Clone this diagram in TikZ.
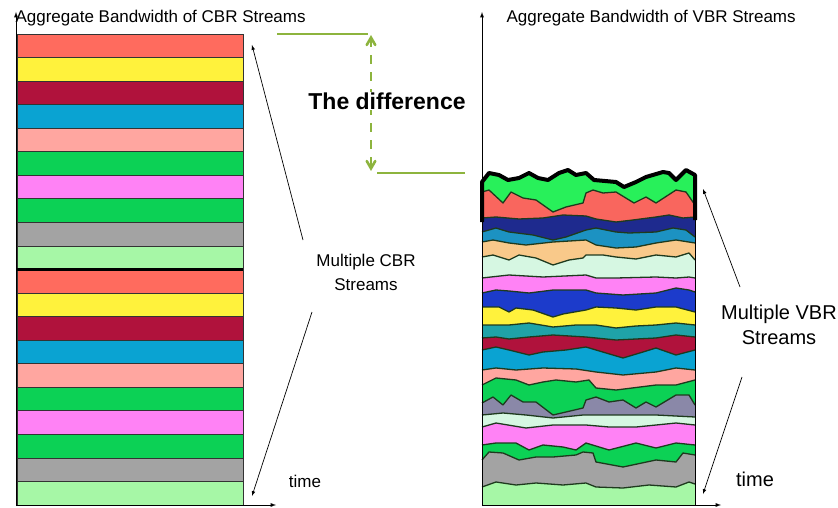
\documentclass[tikz,border=0pt]{standalone}
\usepackage{fontspec}
\setmainfont{Liberation Sans}
\usetikzlibrary{arrows}

\definecolor{cbrred}{HTML}{FF6B5E}
\definecolor{cbryellow}{HTML}{FFF23C}
\definecolor{cbrmaroon}{HTML}{B0123C}
\definecolor{cbrblue}{HTML}{0AA3D2}
\definecolor{cbrpink}{HTML}{FFA6A0}
\definecolor{cbrgreen}{HTML}{0CD155}
\definecolor{cbrmagenta}{HTML}{FF82F5}
\definecolor{cbrgray}{HTML}{A3A3A3}
\definecolor{cbrmint}{HTML}{A6F7A6}
\definecolor{vbrlime}{HTML}{28F05A}
\definecolor{vbrred}{HTML}{F9665E}
\definecolor{vbrnavy}{HTML}{1E2A8E}
\definecolor{vbrteal}{HTML}{1C92C2}
\definecolor{vbrorange}{HTML}{F9C98A}
\definecolor{vbrpale}{HTML}{D6F7E2}
\definecolor{vbrroyal}{HTML}{1C3BCB}
\definecolor{vbrcyan}{HTML}{1FA3A8}
\definecolor{vbrslate}{HTML}{8A88A8}
\definecolor{edgegreen}{HTML}{1E3A1E}
\definecolor{diffgreen}{HTML}{8DB43E}

\newcommand{\vbrlayer}[2]{%
  \fill[#1] (482,505) -- #2 -- (695,505) -- cycle;
  \draw[vbredge] #2;}

\begin{document}
\begin{tikzpicture}[x=1pt, y=-1pt, font=\fontsize{17}{24}\selectfont]
	\tikzstyle{cbrband}=[draw=black!80, line width=0.8pt]
	\tikzstyle{vbredge}=[draw=edgegreen, line width=1.3pt, line join=round]
	\tikzstyle{axis}=[-latex, line width=0.9pt]
	\tikzstyle{pointer}=[-latex, line width=0.7pt]
	\tikzstyle{diffline}=[draw=diffgreen, line width=2.6pt]
	\useasboundingbox (0,0) rectangle (838,508);
	\foreach \c [count=\i from 0] in {cbrred, cbryellow, cbrmaroon, cbrblue, cbrpink, cbrgreen, cbrmagenta, cbrgreen, cbrgray, cbrmint, cbrred, cbryellow, cbrmaroon, cbrblue, cbrpink, cbrgreen, cbrmagenta, cbrgreen, cbrgray, cbrmint}
		\filldraw[fill=\c, cbrband] (17,34+\i*23.55) rectangle (243,57.55+\i*23.55);
	\draw[line width=2.8pt] (17,269.5) -- (243,269.5);
	\draw[axis] (16,506) -- (16,12);
	\draw[axis] (16,505) -- (276,505);
	\vbrlayer{vbrlime}{(482,182) -- (489,173) -- (499,175) -- (508,180) -- (519,178) -- (529,173) -- (538,178) -- (548,180) -- (559,173) -- (568,170) -- (576,175) -- (586,173) -- (594,180) -- (616,182) -- (624,187) -- (636,182) -- (646,177) -- (663,172) -- (669,173) -- (676,180) -- (686,170) -- (695,175)}
	\vbrlayer{vbrred}{(482,192) -- (489,190) -- (503,203) -- (511,192) -- (523,198) -- (536,200) -- (553,212) -- (566,207) -- (583,203) -- (586,193) -- (593,190) -- (603,193) -- (616,192) -- (634,203) -- (646,197) -- (656,203) -- (676,190) -- (686,192) -- (695,205)}
	\vbrlayer{vbrnavy}{(482,218) -- (496,217) -- (519,219) -- (543,218) -- (563,215) -- (586,216) -- (596,219) -- (616,222) -- (633,220) -- (656,217) -- (669,215) -- (683,218) -- (695,217)}
	\vbrlayer{vbrteal}{(482,232) -- (496,228) -- (509,232) -- (533,235) -- (553,240) -- (566,237) -- (586,230) -- (596,228) -- (616,232) -- (629,233) -- (656,232) -- (673,228) -- (686,230) -- (695,237)}
	\vbrlayer{vbrorange}{(482,242) -- (493,240) -- (509,243) -- (526,245) -- (553,242) -- (586,240) -- (596,245) -- (616,248) -- (636,247) -- (656,243) -- (676,240) -- (695,243)}
	\vbrlayer{vbrpale}{(482,257) -- (493,255) -- (509,260) -- (519,255) -- (536,258) -- (553,265) -- (569,260) -- (583,258) -- (586,255) -- (603,255) -- (616,257) -- (636,259) -- (656,255) -- (676,257) -- (689,253) -- (695,260)}
	\vbrlayer{cbrmagenta}{(482,278) -- (509,275) -- (543,277) -- (586,275) -- (596,278) -- (616,278) -- (656,277) -- (676,278) -- (689,277) -- (695,278)}
	\vbrlayer{vbrroyal}{(482,293) -- (496,290) -- (509,291) -- (529,293) -- (553,290) -- (586,290) -- (596,293) -- (623,295) -- (656,293) -- (676,288) -- (689,290) -- (695,292)}
	\vbrlayer{cbryellow}{(482,307) -- (499,307) -- (509,312) -- (516,308) -- (533,310) -- (553,317) -- (563,314) -- (586,310) -- (596,307) -- (616,308) -- (636,310) -- (656,307) -- (676,307) -- (695,312)}
	\vbrlayer{vbrcyan}{(482,325) -- (509,325) -- (529,323) -- (553,327) -- (576,325) -- (596,325) -- (616,328) -- (636,326) -- (656,325) -- (676,323) -- (695,325)}
	\vbrlayer{cbrmaroon}{(482,338) -- (496,337) -- (509,339) -- (529,337) -- (553,335) -- (586,337) -- (596,338) -- (616,340) -- (656,338) -- (676,335) -- (695,337)}
	\vbrlayer{cbrblue}{(482,350) -- (496,347) -- (509,350) -- (529,355) -- (543,352) -- (566,350) -- (586,347) -- (596,350) -- (623,358) -- (643,352) -- (656,348) -- (676,355) -- (695,350)}
	\vbrlayer{cbrpink}{(482,370) -- (496,368) -- (516,370) -- (543,368) -- (576,369) -- (596,372) -- (623,375) -- (656,372) -- (676,368) -- (695,370)}
	\vbrlayer{cbrgreen}{(482,385) -- (496,378) -- (516,380) -- (529,385) -- (543,382) -- (556,380) -- (576,382) -- (589,380) -- (596,388) -- (616,390) -- (656,385) -- (676,385) -- (695,380)}
	\vbrlayer{vbrslate}{(482,403) -- (493,397) -- (503,405) -- (511,395) -- (523,402) -- (536,402) -- (553,415) -- (566,412) -- (583,408) -- (586,400) -- (596,397) -- (609,402) -- (623,400) -- (636,408) -- (646,402) -- (656,407) -- (676,395) -- (689,395) -- (695,405)}
	\vbrlayer{vbrpale}{(482,415) -- (503,413) -- (526,415) -- (553,418) -- (583,415) -- (609,415) -- (656,415) -- (695,417)}
	\vbrlayer{cbrmagenta}{(482,427) -- (496,423) -- (526,428) -- (553,425) -- (586,425) -- (609,427) -- (636,427) -- (656,425) -- (676,423) -- (695,425)}
	\vbrlayer{cbrgreen}{(482,445) -- (496,443) -- (516,443) -- (529,450) -- (543,445) -- (563,447) -- (576,450) -- (586,443) -- (609,450) -- (636,443) -- (656,448) -- (676,443) -- (695,445)}
	\vbrlayer{cbrgray}{(482,460) -- (489,452) -- (503,453) -- (519,460) -- (536,457) -- (553,457) -- (576,455) -- (583,452) -- (593,453) -- (596,462) -- (623,467) -- (656,460) -- (676,462) -- (683,453) -- (695,455)}
	\vbrlayer{cbrmint}{(482,487) -- (496,482) -- (516,485) -- (536,483) -- (563,485) -- (586,483) -- (596,487) -- (623,488) -- (649,485) -- (676,487) -- (689,482) -- (695,484)}
	\draw[line width=4pt, line join=round] (482,222) -- (482,182) -- (489,173) -- (499,175) -- (508,180) -- (519,178) -- (529,173) -- (538,178) -- (548,180) -- (559,173) -- (568,170) -- (576,175) -- (586,173) -- (594,180) -- (616,182) -- (624,187) -- (636,182) -- (646,177) -- (663,172) -- (669,173) -- (676,180) -- (686,170) -- (695,175) -- (695,220);
	\draw[line width=0.8pt] (695,205) -- (695,505);
	\draw[axis] (482,506) -- (482,12);
	\draw[axis] (482,505) -- (721,505);
	\node[anchor=west] (cbrtitle) at (12,18) {Aggregate Bandwidth of CBR Streams};
	\node[anchor=west] (vbrtitle) at (503,18) {Aggregate Bandwidth of VBR Streams};
	\node[align=center] (cbrlabel) at (366,272) {Multiple CBR\\Streams};
	\node[align=center, font=\fontsize{20}{25}\selectfont] (vbrlabel) at (779,325) {Multiple VBR\\Streams};
	\node (cbrtime) at (305,481) {time};
	\node[font=\fontsize{20}{24}\selectfont] (vbrtime) at (755,479) {time};
	\coordinate (cbrfromA) at (303,240);
	\coordinate (cbrfromB) at (312,312);
	\coordinate (cbrtop) at (252,45);
	\coordinate (cbrbot) at (252,496);
	\coordinate (vbrfromA) at (740,287);
	\coordinate (vbrfromB) at (742,377);
	\coordinate (vbrtop) at (703,189);
	\coordinate (vbrbot) at (703,494);
	\draw[pointer] (cbrfromA) -- (cbrtop);
	\draw[pointer] (cbrfromB) -- (cbrbot);
	\draw[pointer] (vbrfromA) -- (vbrtop);
	\draw[pointer] (vbrfromB) -- (vbrbot);
	\coordinate (diffA) at (371,35);
	\coordinate (diffB) at (371,171);
	\draw[diffline] (277,34) -- (368,34);
	\draw[diffline] (377,173) -- (465,173);
	\draw[diffline, dash pattern=on 9pt off 8pt, {angle 60}-{angle 60}] (diffA) -- (diffB);
	\node[font=\bfseries\fontsize{23}{26}\selectfont, fill=white, inner sep=1pt] (difflabel) at (387,101) {The difference};
\end{tikzpicture}
\end{document}
